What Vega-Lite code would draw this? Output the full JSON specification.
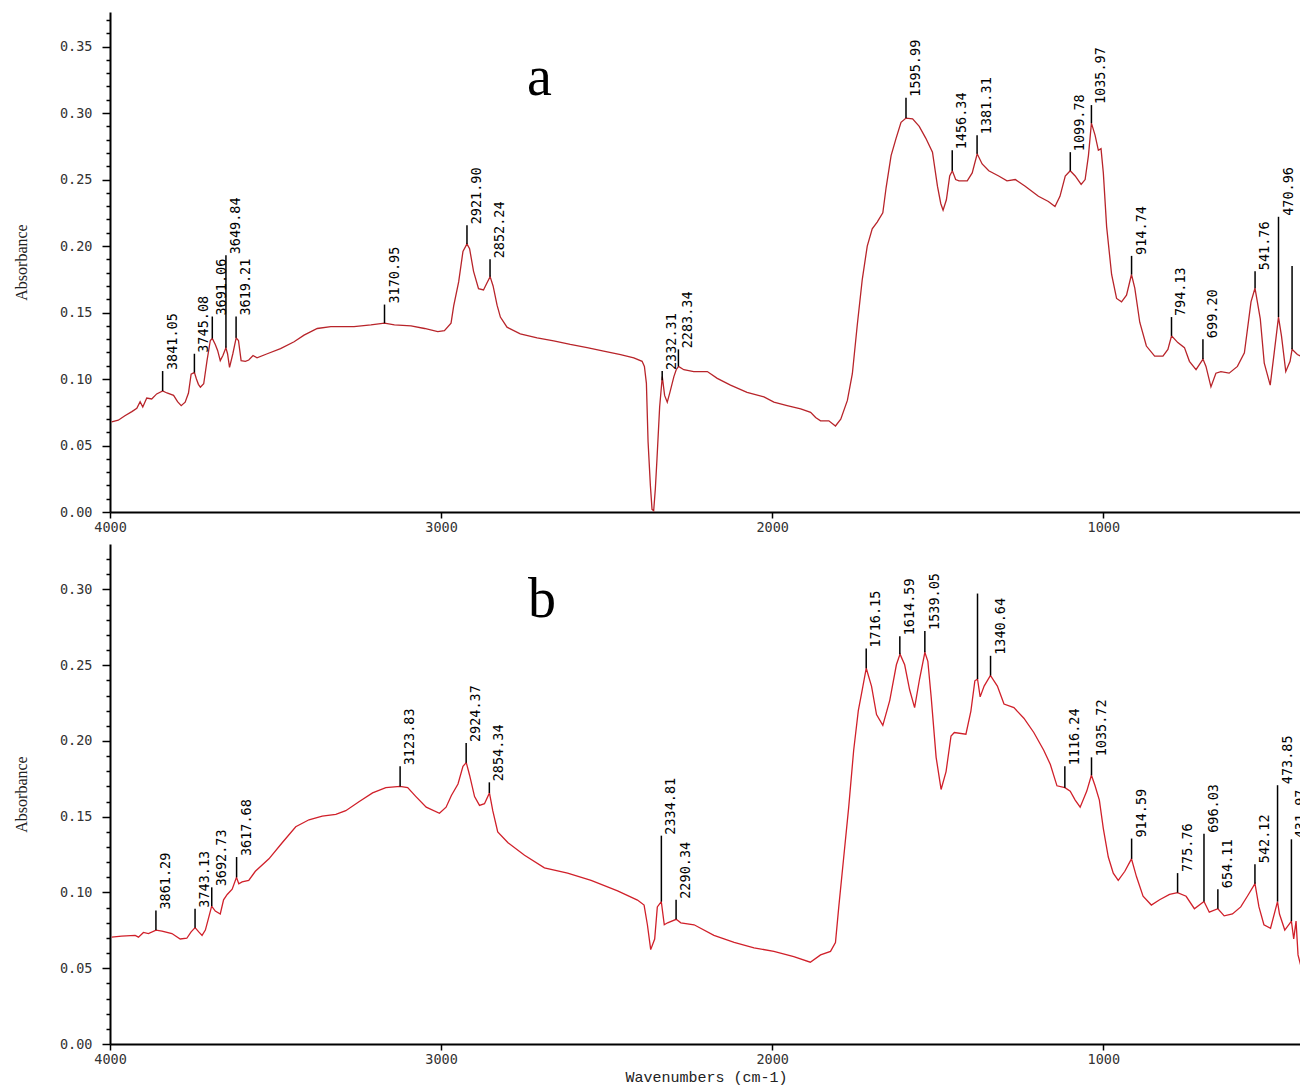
{
 "$schema": "https://vega.github.io/schema/vega-lite/v6.json",
 "padding": {"left": 13, "top": 12, "right": 0, "bottom": 6},
 "background": "white",
 "spacing": 10,
 "config": {
  "view": {"stroke": null},
  "axis": {"grid": false, "domainColor": "black", "domainWidth": 2, "tickColor": "black", "tickWidth": 1.5, "labelFont": "DejaVu Sans Mono", "labelFontSize": 13.5, "labelColor": "#333"}
 },
 "datasets": {
  "a": [
   {"wn":3995,"A":0.0678},{"wn":3975,"A":0.069},{"wn":3955,"A":0.0724},{"wn":3934,"A":0.0755},{"wn":3919,"A":0.078},{"wn":3909,"A":0.083},{"wn":3901,"A":0.079},{"wn":3889,"A":0.0857},{"wn":3874,"A":0.085},{"wn":3859,"A":0.0888},{"wn":3841,"A":0.091},{"wn":3828,"A":0.0895},{"wn":3808,"A":0.0877},{"wn":3796,"A":0.083},{"wn":3785,"A":0.08},{"wn":3773,"A":0.0826},{"wn":3763,"A":0.0895},{"wn":3755,"A":0.1036},{"wn":3745,"A":0.1049},{"wn":3739,"A":0.1},{"wn":3733,"A":0.096},{"wn":3727,"A":0.0939},{"wn":3717,"A":0.0964},{"wn":3707,"A":0.1138},{"wn":3697,"A":0.129},{"wn":3691,"A":0.1305},{"wn":3682,"A":0.126},{"wn":3675,"A":0.1215},{"wn":3667,"A":0.1138},{"wn":3659,"A":0.1177},{"wn":3650,"A":0.1235},{"wn":3645,"A":0.119},{"wn":3639,"A":0.1087},{"wn":3629,"A":0.119},{"wn":3619,"A":0.131},{"wn":3612,"A":0.129},{"wn":3604,"A":0.1138},{"wn":3591,"A":0.1133},{"wn":3581,"A":0.1143},{"wn":3568,"A":0.1177},{"wn":3556,"A":0.116},{"wn":3525,"A":0.119},{"wn":3485,"A":0.1228},{"wn":3444,"A":0.128},{"wn":3414,"A":0.133},{"wn":3374,"A":0.138},{"wn":3333,"A":0.1394},{"wn":3263,"A":0.1394},{"wn":3212,"A":0.1407},{"wn":3171,"A":0.142},{"wn":3141,"A":0.1407},{"wn":3091,"A":0.14},{"wn":3050,"A":0.138},{"wn":3010,"A":0.1356},{"wn":2990,"A":0.1363},{"wn":2970,"A":0.142},{"wn":2962,"A":0.155},{"wn":2947,"A":0.173},{"wn":2934,"A":0.196},{"wn":2922,"A":0.2016},{"wn":2914,"A":0.198},{"wn":2902,"A":0.181},{"wn":2887,"A":0.168},{"wn":2872,"A":0.167},{"wn":2862,"A":0.172},{"wn":2852,"A":0.177},{"wn":2843,"A":0.17},{"wn":2831,"A":0.1555},{"wn":2821,"A":0.1466},{"wn":2801,"A":0.139},{"wn":2761,"A":0.134},{"wn":2710,"A":0.131},{"wn":2660,"A":0.1287},{"wn":2610,"A":0.126},{"wn":2559,"A":0.1236},{"wn":2509,"A":0.121},{"wn":2458,"A":0.1184},{"wn":2418,"A":0.1159},{"wn":2393,"A":0.1133},{"wn":2386,"A":0.1095},{"wn":2380,"A":0.0967},{"wn":2375,"A":0.053},{"wn":2368,"A":0.02},{"wn":2363,"A":0.002},{"wn":2358,"A":0.001},{"wn":2353,"A":0.0174},{"wn":2348,"A":0.04},{"wn":2340,"A":0.079},{"wn":2332,"A":0.1018},{"wn":2325,"A":0.0877},{"wn":2317,"A":0.0826},{"wn":2309,"A":0.09},{"wn":2297,"A":0.1018},{"wn":2290,"A":0.107},{"wn":2283,"A":0.1095},{"wn":2267,"A":0.107},{"wn":2237,"A":0.1056},{"wn":2196,"A":0.1056},{"wn":2166,"A":0.1005},{"wn":2126,"A":0.0954},{"wn":2076,"A":0.09},{"wn":2025,"A":0.0865},{"wn":1995,"A":0.0826},{"wn":1955,"A":0.08},{"wn":1914,"A":0.0775},{"wn":1884,"A":0.075},{"wn":1869,"A":0.0711},{"wn":1854,"A":0.0686},{"wn":1829,"A":0.0686},{"wn":1809,"A":0.0647},{"wn":1793,"A":0.0698},{"wn":1773,"A":0.0839},{"wn":1758,"A":0.104},{"wn":1743,"A":0.141},{"wn":1728,"A":0.175},{"wn":1713,"A":0.2},{"wn":1698,"A":0.213},{"wn":1683,"A":0.218},{"wn":1666,"A":0.225},{"wn":1656,"A":0.244},{"wn":1641,"A":0.268},{"wn":1626,"A":0.281},{"wn":1611,"A":0.293},{"wn":1596,"A":0.2962},{"wn":1576,"A":0.2957},{"wn":1556,"A":0.29},{"wn":1536,"A":0.281},{"wn":1516,"A":0.2706},{"wn":1501,"A":0.245},{"wn":1491,"A":0.232},{"wn":1484,"A":0.227},{"wn":1474,"A":0.2348},{"wn":1464,"A":0.2527},{"wn":1456,"A":0.2566},{"wn":1446,"A":0.25},{"wn":1436,"A":0.249},{"wn":1411,"A":0.249},{"wn":1396,"A":0.255},{"wn":1381,"A":0.2694},{"wn":1366,"A":0.2617},{"wn":1346,"A":0.2566},{"wn":1316,"A":0.2527},{"wn":1291,"A":0.249},{"wn":1266,"A":0.25},{"wn":1236,"A":0.245},{"wn":1196,"A":0.2374},{"wn":1166,"A":0.2335},{"wn":1146,"A":0.2297},{"wn":1131,"A":0.2374},{"wn":1115,"A":0.2527},{"wn":1100,"A":0.2566},{"wn":1085,"A":0.2527},{"wn":1067,"A":0.2463},{"wn":1055,"A":0.25},{"wn":1045,"A":0.268},{"wn":1036,"A":0.2924},{"wn":1025,"A":0.2834},{"wn":1015,"A":0.272},{"wn":1007,"A":0.2732},{"wn":1000,"A":0.255},{"wn":990,"A":0.2144},{"wn":975,"A":0.1786},{"wn":960,"A":0.1606},{"wn":945,"A":0.158},{"wn":930,"A":0.163},{"wn":915,"A":0.1786},{"wn":905,"A":0.1683},{"wn":890,"A":0.1427},{"wn":870,"A":0.1248},{"wn":845,"A":0.1172},{"wn":820,"A":0.1172},{"wn":805,"A":0.1223},{"wn":794,"A":0.1325},{"wn":775,"A":0.1274},{"wn":755,"A":0.1236},{"wn":740,"A":0.1133},{"wn":720,"A":0.107},{"wn":699,"A":0.115},{"wn":690,"A":0.1095},{"wn":675,"A":0.0941},{"wn":660,"A":0.1044},{"wn":645,"A":0.1056},{"wn":620,"A":0.1044},{"wn":595,"A":0.1095},{"wn":574,"A":0.1197},{"wn":554,"A":0.158},{"wn":542,"A":0.1683},{"wn":526,"A":0.1453},{"wn":514,"A":0.112},{"wn":496,"A":0.0954},{"wn":484,"A":0.1197},{"wn":471,"A":0.1466},{"wn":462,"A":0.1325},{"wn":449,"A":0.1056},{"wn":436,"A":0.1133},{"wn":430,"A":0.1223},{"wn":414,"A":0.1184},{"wn":404,"A":0.1172}
  ],
  "b": [
   {"wn":3995,"A":0.0705},{"wn":3965,"A":0.0712},{"wn":3924,"A":0.0717},{"wn":3914,"A":0.0705},{"wn":3899,"A":0.0736},{"wn":3884,"A":0.0729},{"wn":3861,"A":0.0752},{"wn":3843,"A":0.0745},{"wn":3813,"A":0.0729},{"wn":3788,"A":0.0693},{"wn":3768,"A":0.0698},{"wn":3755,"A":0.074},{"wn":3743,"A":0.0768},{"wn":3732,"A":0.074},{"wn":3722,"A":0.0717},{"wn":3712,"A":0.0752},{"wn":3702,"A":0.0834},{"wn":3693,"A":0.091},{"wn":3682,"A":0.0877},{"wn":3667,"A":0.0858},{"wn":3657,"A":0.0952},{"wn":3646,"A":0.0987},{"wn":3631,"A":0.1022},{"wn":3618,"A":0.11},{"wn":3611,"A":0.1058},{"wn":3601,"A":0.107},{"wn":3581,"A":0.108},{"wn":3561,"A":0.114},{"wn":3520,"A":0.1222},{"wn":3480,"A":0.1328},{"wn":3439,"A":0.1434},{"wn":3399,"A":0.148},{"wn":3359,"A":0.1504},{"wn":3318,"A":0.1516},{"wn":3288,"A":0.154},{"wn":3247,"A":0.16},{"wn":3207,"A":0.1657},{"wn":3167,"A":0.1692},{"wn":3124,"A":0.17},{"wn":3101,"A":0.1692},{"wn":3076,"A":0.1633},{"wn":3045,"A":0.1563},{"wn":3005,"A":0.1523},{"wn":2985,"A":0.1563},{"wn":2969,"A":0.164},{"wn":2949,"A":0.1716},{"wn":2934,"A":0.1833},{"wn":2924,"A":0.1857},{"wn":2914,"A":0.1774},{"wn":2899,"A":0.1633},{"wn":2884,"A":0.1575},{"wn":2869,"A":0.1586},{"wn":2854,"A":0.1657},{"wn":2844,"A":0.154},{"wn":2829,"A":0.14},{"wn":2798,"A":0.1328},{"wn":2748,"A":0.1246},{"wn":2688,"A":0.1163},{"wn":2618,"A":0.1128},{"wn":2547,"A":0.108},{"wn":2467,"A":0.101},{"wn":2407,"A":0.095},{"wn":2387,"A":0.0917},{"wn":2377,"A":0.0787},{"wn":2367,"A":0.0623},{"wn":2355,"A":0.0693},{"wn":2347,"A":0.0905},{"wn":2335,"A":0.094},{"wn":2326,"A":0.0787},{"wn":2316,"A":0.08},{"wn":2290,"A":0.0823},{"wn":2276,"A":0.08},{"wn":2236,"A":0.0787},{"wn":2176,"A":0.0717},{"wn":2115,"A":0.067},{"wn":2055,"A":0.0635},{"wn":1995,"A":0.0611},{"wn":1935,"A":0.0576},{"wn":1885,"A":0.054},{"wn":1854,"A":0.0588},{"wn":1824,"A":0.0611},{"wn":1809,"A":0.067},{"wn":1799,"A":0.0905},{"wn":1784,"A":0.1234},{"wn":1769,"A":0.1563},{"wn":1754,"A":0.1939},{"wn":1740,"A":0.22},{"wn":1730,"A":0.2315},{"wn":1716,"A":0.248},{"wn":1700,"A":0.236},{"wn":1685,"A":0.2174},{"wn":1666,"A":0.2103},{"wn":1645,"A":0.2268},{"wn":1625,"A":0.2503},{"wn":1614,"A":0.2573},{"wn":1600,"A":0.2503},{"wn":1585,"A":0.2338},{"wn":1570,"A":0.222},{"wn":1555,"A":0.2409},{"wn":1539,"A":0.2585},{"wn":1530,"A":0.2526},{"wn":1520,"A":0.2291},{"wn":1505,"A":0.1892},{"wn":1490,"A":0.168},{"wn":1475,"A":0.1798},{"wn":1460,"A":0.2033},{"wn":1450,"A":0.2056},{"wn":1415,"A":0.2045},{"wn":1400,"A":0.2197},{"wn":1388,"A":0.2397},{"wn":1380,"A":0.2409},{"wn":1372,"A":0.2291},{"wn":1360,"A":0.2362},{"wn":1341,"A":0.2432},{"wn":1320,"A":0.2362},{"wn":1300,"A":0.2244},{"wn":1270,"A":0.222},{"wn":1240,"A":0.215},{"wn":1210,"A":0.2056},{"wn":1180,"A":0.1939},{"wn":1160,"A":0.1845},{"wn":1140,"A":0.1704},{"wn":1116,"A":0.1692},{"wn":1100,"A":0.1669},{"wn":1085,"A":0.161},{"wn":1070,"A":0.1563},{"wn":1050,"A":0.1669},{"wn":1036,"A":0.1774},{"wn":1025,"A":0.1704},{"wn":1012,"A":0.161},{"wn":1000,"A":0.1422},{"wn":985,"A":0.1234},{"wn":970,"A":0.1128},{"wn":955,"A":0.108},{"wn":935,"A":0.114},{"wn":915,"A":0.1222},{"wn":900,"A":0.1105},{"wn":880,"A":0.0975},{"wn":855,"A":0.0917},{"wn":830,"A":0.0952},{"wn":800,"A":0.0987},{"wn":776,"A":0.0999},{"wn":750,"A":0.0975},{"wn":725,"A":0.0893},{"wn":696,"A":0.094},{"wn":680,"A":0.087},{"wn":654,"A":0.0893},{"wn":635,"A":0.0846},{"wn":610,"A":0.0858},{"wn":585,"A":0.0905},{"wn":565,"A":0.0975},{"wn":542,"A":0.1058},{"wn":530,"A":0.0905},{"wn":515,"A":0.0787},{"wn":495,"A":0.0764},{"wn":474,"A":0.094},{"wn":468,"A":0.0858},{"wn":452,"A":0.0752},{"wn":432,"A":0.0811},{"wn":425,"A":0.0693},{"wn":418,"A":0.0811},{"wn":412,"A":0.0588},{"wn":404,"A":0.052}
  ],
  "pa": [
   {"wn":3841.05,"y0":0.091,"y1":0.106,"label":"3841.05"},
   {"wn":3745.08,"y0":0.1049,"y1":0.119,"label":"3745.08"},
   {"wn":3691.06,"y0":0.1305,"y1":0.147,"label":"3691.06"},
   {"wn":3649.84,"y0":0.1235,"y1":0.193,"label":"3649.84"},
   {"wn":3619.21,"y0":0.131,"y1":0.147,"label":"3619.21"},
   {"wn":3170.95,"y0":0.142,"y1":0.156,"label":"3170.95"},
   {"wn":2921.90,"y0":0.2016,"y1":0.2156,"label":"2921.90"},
   {"wn":2852.24,"y0":0.177,"y1":0.19,"label":"2852.24"},
   {"wn":2332.31,"y0":0.099,"y1":0.106,"label":"2332.31"},
   {"wn":2283.34,"y0":0.1095,"y1":0.1223,"label":"2283.34"},
   {"wn":1595.99,"y0":0.2962,"y1":0.3116,"label":"1595.99"},
   {"wn":1456.34,"y0":0.2566,"y1":0.272,"label":"1456.34"},
   {"wn":1381.31,"y0":0.2694,"y1":0.2834,"label":"1381.31"},
   {"wn":1099.78,"y0":0.2566,"y1":0.2706,"label":"1099.78"},
   {"wn":1035.97,"y0":0.2924,"y1":0.306,"label":"1035.97"},
   {"wn":914.74,"y0":0.1786,"y1":0.1926,"label":"914.74"},
   {"wn":794.13,"y0":0.1325,"y1":0.1466,"label":"794.13"},
   {"wn":699.20,"y0":0.115,"y1":0.13,"label":"699.20"},
   {"wn":541.76,"y0":0.1683,"y1":0.1811,"label":"541.76"},
   {"wn":470.96,"y0":0.1466,"y1":0.222,"label":"470.96"},
   {"wn":430,"y0":0.1223,"y1":0.1849,"label":""}
  ],
  "pb": [
   {"wn":3861.29,"y0":0.0752,"y1":0.0881,"label":"3861.29"},
   {"wn":3743.13,"y0":0.0768,"y1":0.0893,"label":"3743.13"},
   {"wn":3692.73,"y0":0.091,"y1":0.1034,"label":"3692.73"},
   {"wn":3617.68,"y0":0.11,"y1":0.1234,"label":"3617.68"},
   {"wn":3123.83,"y0":0.17,"y1":0.1833,"label":"3123.83"},
   {"wn":2924.37,"y0":0.1857,"y1":0.1986,"label":"2924.37"},
   {"wn":2854.34,"y0":0.1657,"y1":0.1727,"label":"2854.34"},
   {"wn":2334.81,"y0":0.094,"y1":0.1375,"label":"2334.81"},
   {"wn":2290.34,"y0":0.0823,"y1":0.0952,"label":"2290.34"},
   {"wn":1716.15,"y0":0.248,"y1":0.261,"label":"1716.15"},
   {"wn":1614.59,"y0":0.2573,"y1":0.2691,"label":"1614.59"},
   {"wn":1539.05,"y0":0.2585,"y1":0.2726,"label":"1539.05"},
   {"wn":1380,"y0":0.2409,"y1":0.2973,"label":""},
   {"wn":1340.64,"y0":0.2432,"y1":0.2562,"label":"1340.64"},
   {"wn":1116.24,"y0":0.1692,"y1":0.1833,"label":"1116.24"},
   {"wn":1035.72,"y0":0.1774,"y1":0.1892,"label":"1035.72"},
   {"wn":914.59,"y0":0.1222,"y1":0.1356,"label":"914.59"},
   {"wn":775.76,"y0":0.0999,"y1":0.1128,"label":"775.76"},
   {"wn":696.03,"y0":0.094,"y1":0.1387,"label":"696.03"},
   {"wn":654.11,"y0":0.0893,"y1":0.1022,"label":"654.11"},
   {"wn":542.12,"y0":0.1058,"y1":0.1187,"label":"542.12"},
   {"wn":473.85,"y0":0.094,"y1":0.1708,"label":"473.85"},
   {"wn":431.97,"y0":0.0811,"y1":0.1351,"label":"431.97"}
  ]
 },
 "vconcat": [
  {
   "width": 1192, "height": 500,
   "resolve": {"axis": {"y": "independent"}},
   "layer": [
    {"data": {"name": "a"}, "mark": {"type": "line", "color": "#b8242a", "strokeWidth": 1.3},
     "encoding": {
      "x": {"field": "wn", "type": "quantitative", "scale": {"domain": [400, 4000], "reverse": true, "nice": false, "zero": false},
            "axis": {"values": [4000, 3000, 2000, 1000], "format": "d", "title": null, "tickSize": 6, "labelPadding": 2, "labelFlush": false}},
      "y": {"field": "A", "type": "quantitative", "scale": {"domain": [0, 0.376], "nice": false, "zero": false},
            "axis": {"values": [0, 0.05, 0.1, 0.15, 0.2, 0.25, 0.3, 0.35], "format": ".2f", "tickSize": 8,
                     "labelPadding": 10, "labelOverlap": false, "labelFlush": false,
                     "title": "Absorbance", "titleFont": "Liberation Serif", "titleFontSize": 16, "titleFontWeight": "normal", "titleColor": "#222",
                     "minExtent": 52, "maxExtent": 52, "titlePadding": 29}}
     }},
    {"data": {"name": "pa"}, "mark": {"type": "rule", "color": "black", "strokeWidth": 1.5},
     "encoding": {"x": {"field": "wn", "type": "quantitative"},
                  "y": {"field": "y0", "type": "quantitative", "axis": {"orient": "left", "values": [0.01,0.02,0.03,0.04,0.06,0.07,0.08,0.09,0.11,0.12,0.13,0.14,0.16,0.17,0.18,0.19,0.21,0.22,0.23,0.24,0.26,0.27,0.28,0.29,0.31,0.32,0.33,0.34,0.36,0.37], "labels": false, "domain": false, "tickSize": 4, "title": null, "minExtent": 0, "maxExtent": 0}},
                  "y2": {"field": "y1"}}},
    {"data": {"name": "pa"}, "mark": {"type": "text", "angle": 270, "align": "left", "baseline": "middle", "dx": 1, "dy": 10, "font": "DejaVu Sans Mono", "fontSize": 13.5, "color": "black", "clip": true},
     "encoding": {"x": {"field": "wn", "type": "quantitative"}, "y": {"field": "y1", "type": "quantitative", "axis": null}, "text": {"field": "label"}}},
    {"data": {"values": [{"wn": 2703, "A": 0.3137, "t": "a"}]}, "mark": {"type": "text", "font": "Liberation Serif", "fontSize": 56, "baseline": "alphabetic", "align": "center", "color": "black"},
     "encoding": {"x": {"field": "wn", "type": "quantitative"}, "y": {"field": "A", "type": "quantitative", "axis": null}, "text": {"field": "t"}}}
   ]
  },
  {
   "width": 1192, "height": 500,
   "resolve": {"axis": {"y": "independent"}},
   "layer": [
    {"data": {"name": "b"}, "mark": {"type": "line", "color": "#d0202a", "strokeWidth": 1.3},
     "encoding": {
      "x": {"field": "wn", "type": "quantitative", "scale": {"domain": [400, 4000], "reverse": true, "nice": false, "zero": false},
            "axis": {"values": [4000, 3000, 2000, 1000], "format": "d", "title": "Wavenumbers (cm-1)", "titleFont": "Liberation Mono", "titleFontSize": 15, "titleFontWeight": "normal", "titleColor": "#222", "titlePadding": 4, "tickSize": 6, "labelPadding": 2, "labelFlush": false}},
      "y": {"field": "A", "type": "quantitative", "scale": {"domain": [0, 0.33], "nice": false, "zero": false},
            "axis": {"values": [0, 0.05, 0.1, 0.15, 0.2, 0.25, 0.3], "format": ".2f", "tickSize": 8,
                     "labelPadding": 10, "labelOverlap": false, "labelFlush": false,
                     "title": "Absorbance", "titleFont": "Liberation Serif", "titleFontSize": 16, "titleFontWeight": "normal", "titleColor": "#222",
                     "minExtent": 52, "maxExtent": 52, "titlePadding": 29}}
     }},
    {"data": {"name": "pb"}, "mark": {"type": "rule", "color": "black", "strokeWidth": 1.5},
     "encoding": {"x": {"field": "wn", "type": "quantitative"},
                  "y": {"field": "y0", "type": "quantitative", "axis": {"orient": "left", "values": [0.01,0.02,0.03,0.04,0.06,0.07,0.08,0.09,0.11,0.12,0.13,0.14,0.16,0.17,0.18,0.19,0.21,0.22,0.23,0.24,0.26,0.27,0.28,0.29,0.31,0.32], "labels": false, "domain": false, "tickSize": 4, "title": null, "minExtent": 0, "maxExtent": 0}},
                  "y2": {"field": "y1"}}},
    {"data": {"name": "pb"}, "mark": {"type": "text", "angle": 270, "align": "left", "baseline": "middle", "dx": 1, "dy": 10, "font": "DejaVu Sans Mono", "fontSize": 13.5, "color": "black", "clip": true},
     "encoding": {"x": {"field": "wn", "type": "quantitative"}, "y": {"field": "y1", "type": "quantitative", "axis": null}, "text": {"field": "label"}}},
    {"data": {"values": [{"wn": 2695, "A": 0.282, "t": "b"}]}, "mark": {"type": "text", "font": "Liberation Serif", "fontSize": 56, "baseline": "alphabetic", "align": "center", "color": "black"},
     "encoding": {"x": {"field": "wn", "type": "quantitative"}, "y": {"field": "A", "type": "quantitative", "axis": null}, "text": {"field": "t"}}}
   ]
  }
 ]
}
